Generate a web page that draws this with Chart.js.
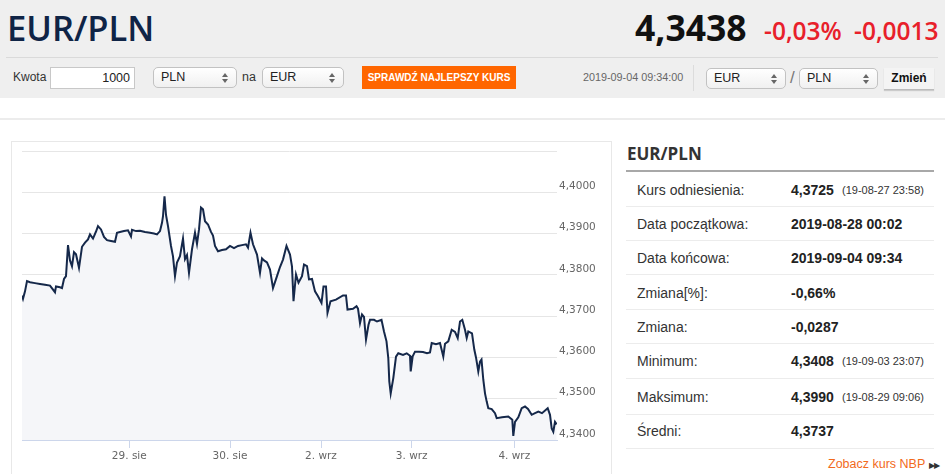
<!DOCTYPE html>
<html><head><meta charset="utf-8">
<script src="https://cdn.jsdelivr.net/npm/chart.js@4.4.1/dist/chart.umd.min.js"></script>
<style>
html,body{margin:0;padding:0;}
body{width:945px;height:474px;overflow:hidden;position:relative;background:#fff;font-family:"Liberation Sans",Arial,sans-serif;color:#333;}
.a{position:absolute;white-space:nowrap;}
#hdr{position:absolute;left:0;top:0;width:945px;height:98px;background:#efefef;}
.sel{position:absolute;box-sizing:border-box;height:21px;border:1px solid #c2c2c2;border-radius:5px;background:linear-gradient(#ffffff,#f0f0f0);font-size:12.5px;line-height:19px;padding-left:7px;color:#222;}
.sel .up,.sel .dn{position:absolute;right:8px;width:0;height:0;border-left:3px solid transparent;border-right:3px solid transparent;}
.sel .up{top:5px;border-bottom:4px solid #666;}
.sel .dn{top:11px;border-top:4px solid #666;}
.lab{position:absolute;left:637px;font-size:14px;line-height:20px;color:#333;white-space:nowrap;}
.val{position:absolute;left:791px;font-size:14px;line-height:20px;font-weight:bold;color:#222;white-space:nowrap;}
.sm{position:absolute;left:842px;font-size:11px;line-height:20px;color:#333;white-space:nowrap;}
.rs{position:absolute;left:626px;width:308px;height:1px;background:#ececec;}
</style></head><body>
<div id="hdr"></div>
<div class="a" style="left:7px;top:11px;font:600 34.5px/34px 'Open Sans';color:#0f2446;">EUR/PLN</div>
<div class="a" style="left:635px;top:10px;font:700 35.5px/35px 'Open Sans';color:#111;">4,3438</div>
<div class="a" style="left:764px;top:19px;font:600 24.5px/24px 'Open Sans';color:#e8202a;">-0,03%</div>
<div class="a" style="left:854px;top:19px;font:600 24.5px/24px 'Open Sans';color:#e8202a;">-0,0013</div>
<div class="a" style="left:6px;top:57px;width:932px;height:1px;background:#dadada;"></div>

<div class="a" style="left:13px;top:70px;font-size:12px;line-height:14px;color:#333;">Kwota</div>
<div class="a" style="left:50px;top:67px;width:85px;height:22px;box-sizing:border-box;border:1px solid #c8c8c8;background:#fff;font-size:12.5px;line-height:20px;text-align:right;padding-right:4px;color:#222;">1000</div>
<div class="sel" style="left:153px;top:67px;width:84px;">PLN<span class="up"></span><span class="dn"></span></div>
<div class="a" style="left:242px;top:70px;font-size:12.5px;line-height:14px;">na</div>
<div class="sel" style="left:262px;top:67px;width:82px;">EUR<span class="up"></span><span class="dn"></span></div>
<div class="a" style="left:362px;top:66px;width:154px;height:23px;background:#ff6600;color:#fff;font-weight:bold;font-size:10px;line-height:23px;text-align:center;">SPRAWDŹ NAJLEPSZY KURS</div>
<div class="a" style="left:583px;top:71px;font-size:10.8px;line-height:13px;color:#666;">2019-09-04 09:34:00</div>
<div class="a" style="left:693px;top:65px;width:1px;height:26px;background:#dcdcdc;"></div>
<div class="sel" style="left:706px;top:68px;width:80px;">EUR<span class="up"></span><span class="dn"></span></div>
<div class="a" style="left:790px;top:68px;font-size:17px;line-height:20px;color:#777;">/</div>
<div class="sel" style="left:799px;top:68px;width:79px;">PLN<span class="up"></span><span class="dn"></span></div>
<div class="a" style="left:884px;top:68px;width:50px;height:21px;background:#f4f4f4;border-bottom:1px solid #bbb;box-shadow:0 1px 1px rgba(0,0,0,.15);font-weight:bold;font-size:12px;line-height:21px;text-align:center;color:#111;">Zmień</div>

<div class="a" style="left:0;top:118px;width:945px;height:2px;background:#ececec;"></div>

<div class="a" style="left:11px;top:141px;width:601px;height:345px;box-sizing:border-box;border:1px solid #e8e8e8;"></div>
<canvas id="c" width="599" height="332" style="position:absolute;left:12px;top:142px;width:599px;height:332px;"></canvas>

<div class="a" style="left:627px;top:144px;font:700 17px/20px 'Open Sans';color:#333;">EUR/PLN</div>
<div class="a" style="left:626px;top:170px;width:308px;height:2px;background:#a8a8a8;"></div>

<div class="lab" style="top:180px;">Kurs odniesienia:</div><div class="val" style="top:180px;">4,3725</div><div class="sm" style="top:180px;">(19-08-27 23:58)</div>
<div class="rs" style="top:206px;"></div>
<div class="lab" style="top:214px;">Data początkowa:</div><div class="val" style="top:214px;">2019-08-28 00:02</div>
<div class="rs" style="top:240px;"></div>
<div class="lab" style="top:248px;">Data końcowa:</div><div class="val" style="top:248px;">2019-09-04 09:34</div>
<div class="rs" style="top:274px;"></div>
<div class="lab" style="top:283px;">Zmiana[%]:</div><div class="val" style="top:283px;">-0,66%</div>
<div class="rs" style="top:309px;"></div>
<div class="lab" style="top:317px;">Zmiana:</div><div class="val" style="top:317px;">-0,0287</div>
<div class="rs" style="top:343px;"></div>
<div class="lab" style="top:351px;">Minimum:</div><div class="val" style="top:351px;">4,3408</div><div class="sm" style="top:351px;">(19-09-03 23:07)</div>
<div class="rs" style="top:378px;"></div>
<div class="lab" style="top:387px;">Maksimum:</div><div class="val" style="top:387px;">4,3990</div><div class="sm" style="top:387px;">(19-08-29 09:06)</div>
<div class="rs" style="top:414px;"></div>
<div class="lab" style="top:421px;">Średni:</div><div class="val" style="top:421px;">4,3737</div>
<div class="rs" style="top:448px;"></div>
<div class="a" style="left:828px;top:457px;font-size:12.5px;line-height:15px;color:#f26a1b;">Zobacz kurs NBP <span style="font-size:8px;color:#333;letter-spacing:-1px;">&#9654;&#9654;</span></div>

<script>
// ordinal positions of samples along the time axis (weekend gap compressed)
const xPos = [0,1,3,5,8,13,18,23,28,33,34,38,40,42,44,46,48,50,52,54,
57,60,63,66,68,71,74,76,79,82,85,89,93,95,98,102,106,109,110,114,
118,123,128,132,135,138,140,141,142.5,144,146,149,151,153,155,158,161,163,165,167,
170,173,175,177,179,181,183,186,189,191,193,196,200,204,208,212,216,220,224,226,
228.5,231,235,238,240,242,245,248,251,255,258,261,264.5,268,270,271.5,274,276.5,280,282,
285,287,290,293,296,299.5,301.5,304,305.5,308.5,314,321,324,325.5,331,334.5,336,338,340,342,
344,346.5,348,352,355,359.5,362,364.5,366.3,367.3,368.7,371.3,374,376.3,381,384.7,388,388.7,390.7,393,
397,401,405,408,409.7,414,418,421.3,423,426.3,429.7,433,435.7,438,440.3,443,444.7,446.3,450,452.3,
454,456.3,458,459.5,461.3,463,464.7,466.3,469.7,473,474.7,480,486.3,490.3,491.3,493,496.3,499.7,503,506,
509.7,513,516.3,520,525.7,528,529.7,531.3,533,534.7];
// EUR/PLN rate
const rates = [4.3750,4.3742,4.3760,4.3785,4.3782,4.3780,4.3778,4.3776,4.3774,4.3758,4.3772,4.3770,4.3768,4.3790,4.3797,4.3872,4.3835,4.3821,4.3855,4.3850,
4.3817,4.3868,4.3878,4.3886,4.3898,4.3888,4.3905,4.3918,4.3910,4.3892,4.3884,4.3882,4.3880,4.3902,4.3904,4.3906,4.3908,4.3893,4.3909,4.3906,
4.3907,4.3904,4.3902,4.3900,4.3898,4.3906,4.3926,4.3942,4.3990,4.3945,4.3918,4.3870,4.3845,4.3797,4.3830,4.3845,4.3888,4.3838,4.3848,4.3805,
4.3862,4.3902,4.3875,4.3910,4.3963,4.3959,4.3930,4.3922,4.3904,4.3895,4.3870,4.3857,4.3860,4.3862,4.3870,4.3865,4.3870,4.3872,4.3874,4.3866,
4.3902,4.3874,4.3849,4.3805,4.3840,4.3835,4.3830,4.3813,4.3768,4.3797,4.3819,4.3837,4.3870,4.3849,4.3820,4.3736,4.3801,4.3781,4.3797,4.3825,
4.3821,4.3789,4.3790,4.3760,4.3748,4.3732,4.3772,4.3772,4.3708,4.3736,4.3740,4.3750,4.3750,4.3716,4.3718,4.3724,4.3718,4.3683,4.3704,4.3698,
4.3643,4.3679,4.3691,4.3691,4.3687,4.3691,4.3663,4.3639,4.3598,4.3542,4.3513,4.3550,4.3602,4.3610,4.3606,4.3610,4.3604,4.3566,4.3603,4.3614,
4.3614,4.3613,4.3610,4.3612,4.3635,4.3632,4.3635,4.3602,4.3633,4.3639,4.3667,4.3662,4.3647,4.3687,4.3691,4.3667,4.3647,4.3663,4.3658,4.3619,
4.3600,4.3566,4.3590,4.3595,4.3546,4.3513,4.3493,4.3477,4.3475,4.3465,4.3453,4.3455,4.3457,4.3449,4.3410,4.3444,4.3455,4.3477,4.3481,4.3475,
4.3461,4.3465,4.3469,4.3465,4.3477,4.3461,4.3428,4.3420,4.3444,4.3438];
// day ticks on the ordinal axis
const dayTickPos = [107.3, 208, 299, 389.7, 492.3];
const dayTickLabels = ['29. sie', '30. sie', '2. wrz', '3. wrz', '4. wrz'];
const yMin = 4.34, yMax = 4.41, yStep = 0.01;

const points = xPos.map((x, i) => ({x: x, y: rates[i]}));
const tickFont = {family: "'DejaVu Sans', Verdana, sans-serif", size: 10.5};

new Chart(document.getElementById('c'), {
  type: 'line',
  data: {datasets: [{
    data: points,
    borderColor: '#15284a',
    borderWidth: 2,
    pointRadius: 0,
    tension: 0,
    fill: 'start',
    backgroundColor: '#f5f6f9'
  }]},
  options: {
    responsive: false,
    animation: false,
    events: [],
    layout: {padding: {left: 10, top: 9, right: 0, bottom: 0}},
    plugins: {legend: {display: false}, tooltip: {enabled: false}},
    scales: {
      x: {
        type: 'linear',
        min: 0,
        max: 535,
        afterBuildTicks: s => { s.ticks = dayTickPos.map(v => ({value: v})); },
        afterFit: s => { s.height = 34; },
        ticks: {
          autoSkip: false, maxRotation: 0, padding: 2,
          color: '#666', font: tickFont,
          callback: (v, i) => dayTickLabels[i]
        },
        grid: {drawOnChartArea: false, drawTicks: true, tickLength: 8, color: '#ccd6eb'},
        border: {display: true, color: '#ccd6eb'}
      },
      y: {
        position: 'right',
        min: yMin,
        max: yMax,
        afterFit: s => { s.width = 54; },
        ticks: {
          stepSize: yStep,
          padding: 2,
          labelOffset: -6,
          color: '#666',
          font: tickFont,
          callback: v => (v > yMax - yStep / 2) ? '' : v.toFixed(4).replace('.', ',')
        },
        grid: {
          drawTicks: false,
          color: c => (c.tick && c.tick.value < yMin + yStep / 2) ? 'rgba(0,0,0,0)' : '#e6e6e6'
        },
        border: {display: false}
      }
    }
  }
});
</script>
</body></html>
